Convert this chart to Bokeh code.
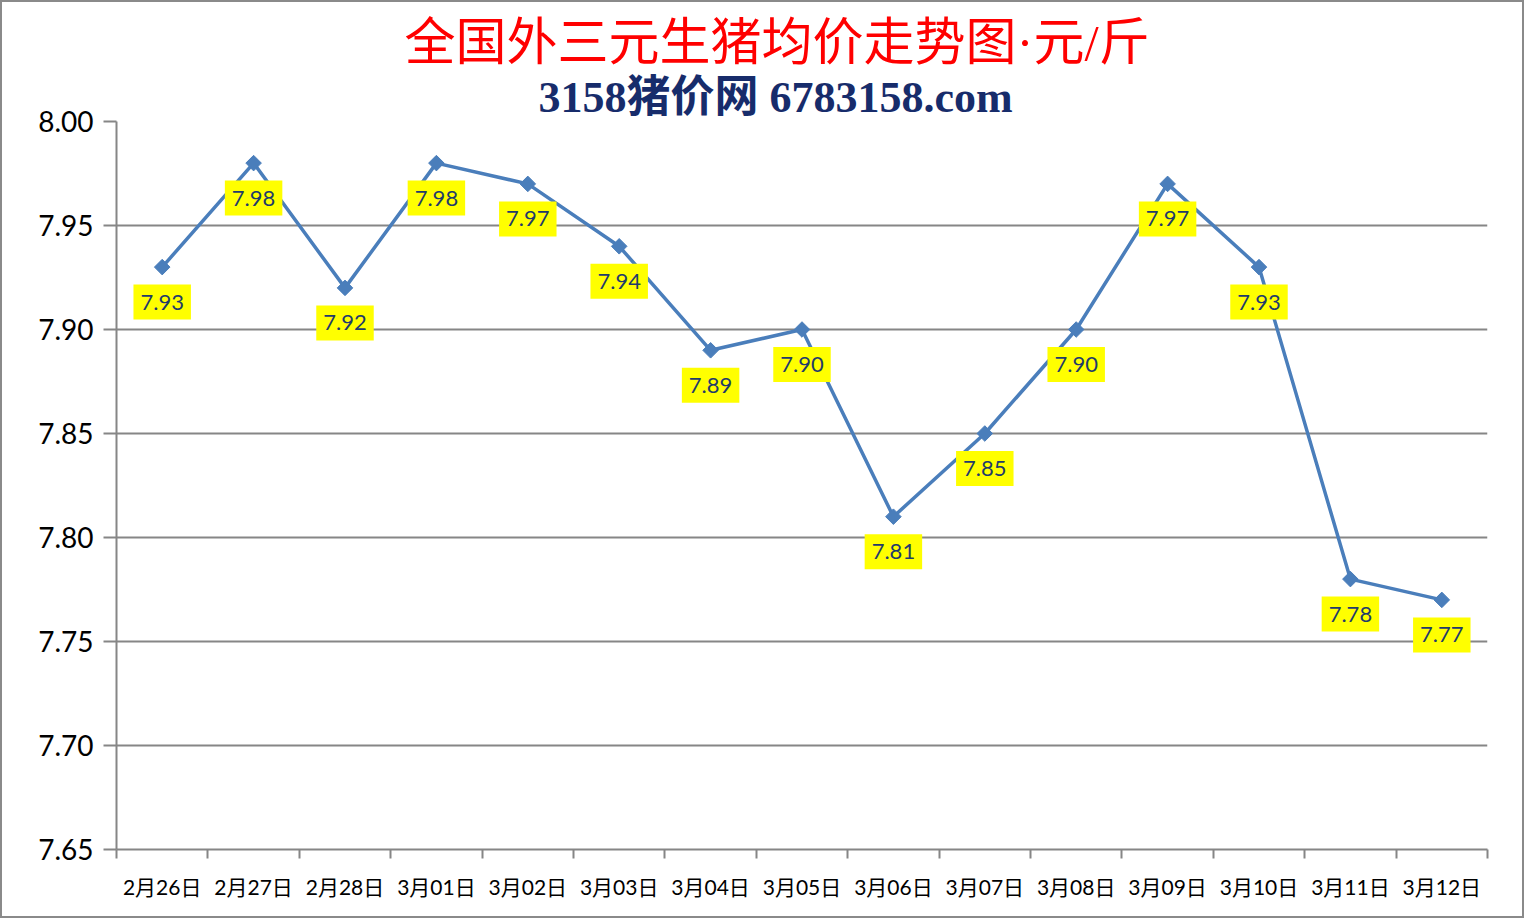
import math
from bokeh.plotting import figure
from bokeh.models import FixedTicker, PrintfTickFormatter, Label, ColumnDataSource, Title
from bokeh.embed import file_html
from bokeh.resources import INLINE

categories = ["2月26日", "2月27日", "2月28日", "3月01日", "3月02日", "3月03日", "3月04日",
              "3月05日", "3月06日", "3月07日", "3月08日", "3月09日", "3月10日", "3月11日", "3月12日"]
prices = [7.93, 7.98, 7.92, 7.98, 7.97, 7.94, 7.89, 7.90, 7.81, 7.85, 7.90, 7.97, 7.93, 7.78, 7.77]
y_ticks = [7.65, 7.70, 7.75, 7.80, 7.85, 7.90, 7.95, 8.00]
title_text = "全国外三元生猪均价走势图·元/斤"
subtitle_text = "3158猪价网 6783158.com"

xs = list(range(len(categories)))
src = ColumnDataSource(dict(x=xs, y=prices))

W, H = 1524, 918
p = figure(width=W, height=H, output_backend="svg", toolbar_location=None,
           x_range=(-0.5, len(categories) - 0.5), y_range=(y_ticks[0], y_ticks[-1]),
           min_border_left=114, min_border_right=39, min_border_top=119, min_border_bottom=71)
p.styles = {"border": "2px solid #8a8a8a"}
p.outline_line_color = None
p.background_fill_color = "white"
p.border_fill_color = "white"

# titles (first added sits nearest the frame)
p.add_layout(Title(text=subtitle_text, align="left", offset=422,
                   text_font="Liberation Serif, Noto Sans CJK SC", text_font_size="44px",
                   text_font_style="bold", text_color="#172C6B", standoff=0), "above")
p.add_layout(Title(text=title_text, align="left", offset=288,
                   text_font="Liberation Serif, Noto Sans CJK SC", text_font_size="51px",
                   text_font_style="normal", text_color="#FF0000", standoff=0), "above")

# grid
p.xgrid.grid_line_color = None
p.ygrid.grid_line_color = "#868686"
p.ygrid.grid_line_width = 2

# y axis
p.yaxis.ticker = FixedTicker(ticks=y_ticks, minor_ticks=[])
p.yaxis.formatter = PrintfTickFormatter(format="%.2f")
p.yaxis.axis_line_color = "#868686"
p.yaxis.axis_line_width = 2
p.yaxis.major_tick_line_color = "#868686"
p.yaxis.major_tick_line_width = 2
p.yaxis.major_tick_out = 13
p.yaxis.major_tick_in = 0
p.yaxis.minor_tick_line_color = None
p.yaxis.major_label_text_font = "Lato"
p.yaxis.major_label_text_font_size = "28px"
p.yaxis.major_label_text_color = "black"
p.yaxis.major_label_standoff = 10

# x axis
bounds = [i - 0.5 for i in range(len(categories) + 1)]
p.xaxis.ticker = FixedTicker(ticks=xs, minor_ticks=bounds)
p.xaxis.major_label_overrides = {i: c for i, c in enumerate(categories)}
p.xaxis.axis_line_color = "#868686"
p.xaxis.axis_line_width = 2
p.xaxis.major_tick_line_color = None
p.xaxis.minor_tick_line_color = "#868686"
p.xaxis.minor_tick_line_width = 2
p.xaxis.minor_tick_out = 9
p.xaxis.minor_tick_in = 0
p.xaxis.major_label_text_font = "Lato, Noto Sans CJK SC"
p.xaxis.major_label_text_font_size = "21px"
p.xaxis.major_label_text_color = "black"
p.xaxis.major_label_standoff = 15

# line + markers
p.line("x", "y", source=src, line_color="#4A7EBB", line_width=3.5)
p.scatter("x", "y", source=src, marker="square", size=11, angle=math.pi / 4,
          fill_color="#4A7EBB", line_color="#4A7EBB")

# data labels
for i, v in zip(xs, prices):
    p.add_layout(Label(x=i, y=v, text="%.2f" % v, y_offset=-35, text_align="center",
                       text_baseline="middle", text_font="Lato", text_font_size="22px",
                       text_color="#1F3B6B", background_fill_color="#FFFF00",
                       padding=dict(x=7, y=10)))

open("out.html", "w").write(file_html(p, INLINE))
